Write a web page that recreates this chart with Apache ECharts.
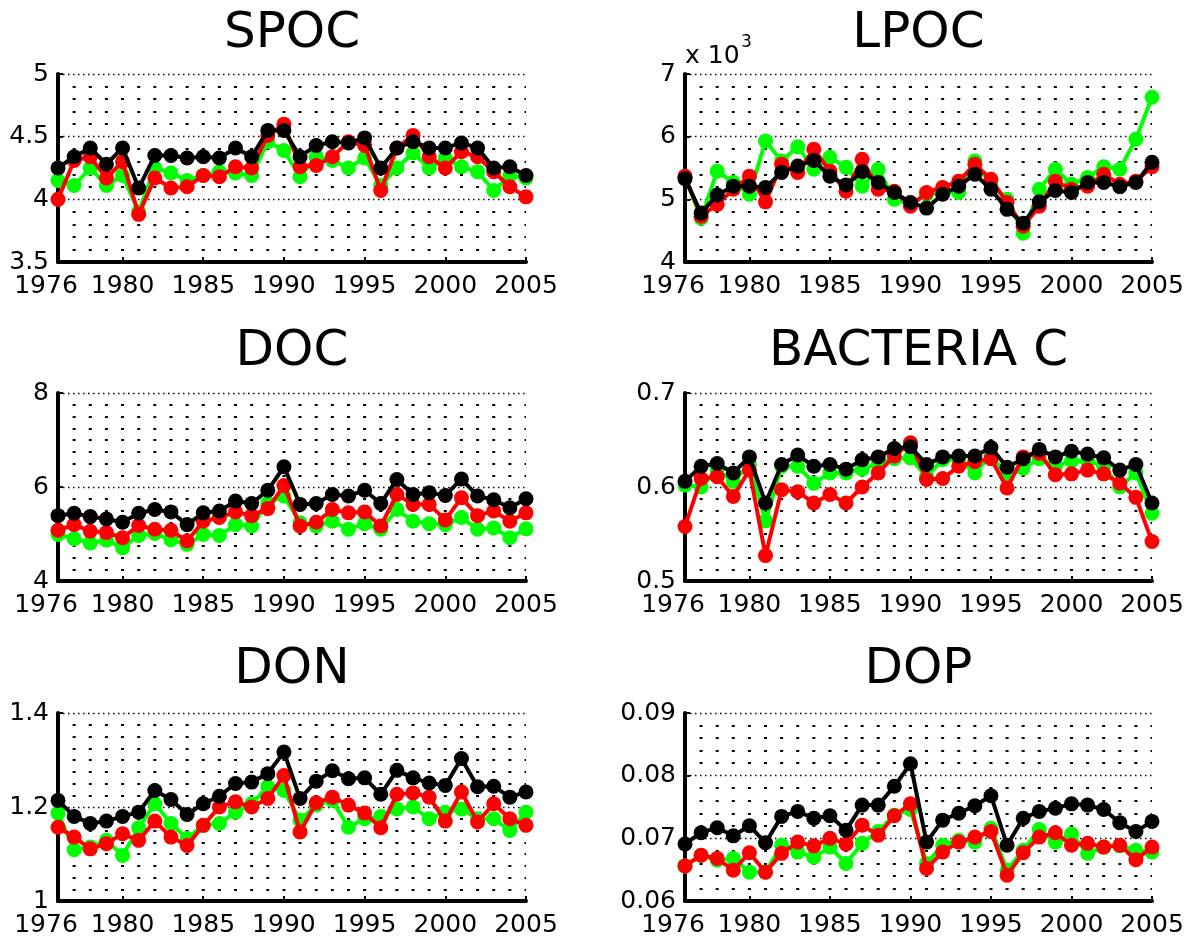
<!DOCTYPE html>
<html><head><meta charset="utf-8">
<script src="https://cdn.jsdelivr.net/npm/echarts@6/dist/echarts.min.js"></script>
<style>html,body{margin:0;padding:0;background:#fff}#c{width:1190px;height:941px}</style>
</head><body><div id="c"></div><script>
const years = [1976,1977,1978,1979,1980,1981,1982,1983,1984,1985,1986,1987,1988,1989,1990,1991,1992,1993,1994,1995,1996,1997,1998,1999,2000,2001,2002,2003,2004,2005];
const xTickLabels = [1976,1980,1985,1990,1995,2000,2005];

const spocGreen = [4.15,4.11,4.25,4.11,4.19,3.90,4.25,4.21,4.15,4.19,4.22,4.21,4.19,4.46,4.39,4.18,4.34,4.31,4.25,4.33,4.11,4.25,4.37,4.25,4.33,4.26,4.22,4.07,4.19,4.17];
const spocRed   = [4.00,4.31,4.34,4.17,4.30,3.88,4.17,4.09,4.10,4.19,4.18,4.26,4.25,4.51,4.60,4.26,4.27,4.34,4.46,4.43,4.07,4.41,4.51,4.34,4.25,4.38,4.34,4.22,4.10,4.02];
const spocBlack = [4.25,4.34,4.41,4.28,4.41,4.09,4.35,4.35,4.33,4.34,4.33,4.41,4.34,4.55,4.55,4.34,4.43,4.46,4.45,4.49,4.25,4.41,4.46,4.41,4.41,4.45,4.41,4.25,4.26,4.19];

const lpocGreen = [5350,4700,5450,5270,5080,5930,5610,5840,5480,5670,5510,5210,5480,5000,4920,5080,5110,5110,5610,5240,5000,4460,5160,5480,5240,5350,5520,5480,5960,6630];
const lpocRed   = [5370,4730,4920,5160,5370,4960,5560,5430,5800,5450,5130,5640,5160,5130,4890,5110,5190,5290,5560,5320,4950,4570,4890,5290,5160,5210,5400,5240,5290,5520];
const lpocBlack = [5330,4780,5070,5210,5210,5190,5430,5530,5620,5370,5230,5440,5270,5110,4950,4860,5080,5210,5400,5160,4840,4620,4960,5140,5110,5270,5270,5200,5270,5590];

const docGreen = [4.99,4.90,4.81,4.87,4.71,4.97,5.01,4.88,4.78,4.99,4.97,5.20,5.17,5.66,5.81,5.24,5.17,5.27,5.10,5.22,5.10,5.52,5.27,5.22,5.20,5.35,5.10,5.13,4.92,5.11];
const docRed   = [5.08,5.20,5.06,5.03,4.92,5.18,5.10,5.08,4.85,5.27,5.35,5.47,5.39,5.54,6.03,5.17,5.25,5.52,5.45,5.47,5.17,5.84,5.63,5.63,5.30,5.77,5.39,5.49,5.27,5.45];
const docBlack = [5.39,5.44,5.37,5.32,5.25,5.44,5.52,5.47,5.20,5.45,5.49,5.70,5.65,5.93,6.43,5.63,5.65,5.84,5.81,5.93,5.65,6.16,5.84,5.88,5.82,6.17,5.81,5.73,5.56,5.75];

const bactGreen = [0.602,0.600,0.618,0.606,0.624,0.564,0.622,0.622,0.604,0.615,0.615,0.619,0.625,0.630,0.631,0.611,0.629,0.629,0.615,0.634,0.611,0.620,0.630,0.622,0.628,0.628,0.622,0.600,0.615,0.572];
const bactRed   = [0.558,0.609,0.611,0.590,0.618,0.527,0.597,0.595,0.583,0.592,0.583,0.600,0.615,0.633,0.647,0.608,0.609,0.622,0.627,0.630,0.599,0.632,0.636,0.613,0.614,0.618,0.614,0.604,0.589,0.542];
const bactBlack = [0.606,0.622,0.625,0.615,0.632,0.583,0.624,0.634,0.622,0.624,0.619,0.629,0.632,0.641,0.643,0.624,0.632,0.633,0.633,0.642,0.621,0.630,0.640,0.632,0.638,0.635,0.631,0.618,0.624,0.583];

const donGreen = [1.187,1.109,1.115,1.129,1.097,1.156,1.207,1.165,1.133,1.161,1.165,1.189,1.207,1.243,1.235,1.172,1.204,1.214,1.157,1.175,1.180,1.196,1.200,1.175,1.189,1.196,1.175,1.175,1.150,1.189];
const donRed   = [1.157,1.136,1.111,1.122,1.143,1.129,1.170,1.136,1.118,1.161,1.200,1.211,1.200,1.218,1.267,1.147,1.209,1.221,1.204,1.187,1.156,1.227,1.230,1.221,1.170,1.232,1.168,1.207,1.175,1.161];
const donBlack = [1.214,1.180,1.165,1.170,1.180,1.189,1.235,1.216,1.184,1.207,1.223,1.250,1.253,1.271,1.317,1.218,1.255,1.277,1.260,1.262,1.227,1.278,1.262,1.251,1.246,1.303,1.243,1.244,1.221,1.232];

const dopGreen = [0.0656,0.0673,0.0665,0.0668,0.0646,0.0646,0.0689,0.0678,0.0670,0.0686,0.0660,0.0692,0.0711,0.0737,0.0746,0.0660,0.0689,0.0697,0.0694,0.0716,0.0649,0.0681,0.0714,0.0694,0.0707,0.0676,0.0686,0.0688,0.0681,0.0678];
const dopRed   = [0.0656,0.0673,0.0668,0.0649,0.0677,0.0646,0.0676,0.0694,0.0688,0.0700,0.0691,0.0721,0.0705,0.0736,0.0755,0.0652,0.0678,0.0694,0.0702,0.0711,0.0641,0.0677,0.0702,0.0709,0.0689,0.0692,0.0686,0.0689,0.0666,0.0686];
const dopBlack = [0.0691,0.0709,0.0717,0.0704,0.0720,0.0693,0.0735,0.0743,0.0732,0.0736,0.0713,0.0753,0.0753,0.0783,0.0819,0.0694,0.0729,0.0740,0.0752,0.0768,0.0689,0.0732,0.0743,0.0748,0.0755,0.0753,0.0746,0.0725,0.0711,0.0727];

const panelTitles = ['SPOC','LPOC','DOC','BACTERIA C','DON','DOP'];
const seriesColors = ['#00ff00','#ff0000','#000000'];

const panels = [
  {title: panelTitles[0], data: [spocGreen, spocRed, spocBlack], min: 3.5, max: 5, interval: 0.5, minor: 5, left: 58, top: 74, width: 468},
  {title: panelTitles[1], data: [lpocGreen, lpocRed, lpocBlack], min: 4000, max: 7000, interval: 1000, minor: 5, left: 685, top: 74, width: 467, scale: 1000},
  {title: panelTitles[2], data: [docGreen, docRed, docBlack], min: 4, max: 8, interval: 2, minor: 8, left: 58, top: 393, width: 468},
  {title: panelTitles[3], data: [bactGreen, bactRed, bactBlack], min: 0.5, max: 0.7, interval: 0.1, minor: 8, left: 685, top: 393, width: 467},
  {title: panelTitles[4], data: [donGreen, donRed, donBlack], min: 1, max: 1.4, interval: 0.2, minor: 8, left: 58, top: 713, width: 468},
  {title: panelTitles[5], data: [dopGreen, dopRed, dopBlack], min: 0.06, max: 0.09, interval: 0.01, minor: 5, left: 685, top: 713, width: 467}
];
const H = 188;
const FONT = 'DejaVu Sans';

const grid = [], xAxis = [], yAxis = [], series = [], graphic = [];
panels.forEach((p, i) => {
  grid.push({left: p.left, top: p.top, width: p.width, height: H, containLabel: false});
  const period = p.width / (years.length - 1);
  xAxis.push({
    type: 'value', gridIndex: i, min: 1976, max: 2005,
    axisLine: {show: true, onZero: false, lineStyle: {color: '#000', width: 4}},
    axisTick: {show: true, inside: true, length: 5, customValues: xTickLabels, lineStyle: {color: '#000', width: 2}},
    axisLabel: {
      show: true, customValues: xTickLabels, color: '#000', fontSize: 25, fontFamily: FONT, margin: 12,
      formatter: v => v === 1976 ? '{s|1976}' : String(v),
      rich: {s: {fontSize: 25, fontFamily: FONT, color: '#000', padding: [0, 24, 0, 0]}}
    },
    splitLine: {show: false}
  });
  yAxis.push({
    type: 'value', gridIndex: i, min: p.min, max: p.max, interval: p.interval,
    axisLine: {show: true, lineStyle: {color: '#000', width: 4}},
    axisTick: {show: true, inside: true, length: 5, lineStyle: {color: '#000', width: 2}},
    axisLabel: {
      show: true, color: '#000', fontSize: 25, fontFamily: FONT, margin: 9,
      formatter: v => {
        const val = p.scale ? v / p.scale : v;
        return String(parseFloat(val.toFixed(4)));
      }
    },
    splitLine: {show: true, lineStyle: {color: '#000', width: 1.3, type: [1.5, 3.5]}},
    minorTick: {show: false, splitNumber: p.minor},
    minorSplitLine: {show: true, lineStyle: {color: '#000', width: 2, type: [3, period - 3], dashOffset: 1.5}}
  });
  p.data.forEach((arr, k) => {
    series.push({
      type: 'line', xAxisIndex: i, yAxisIndex: i,
      data: years.map((y, j) => [y, arr[j]]),
      symbol: 'circle', symbolSize: 15, showSymbol: true,
      lineStyle: {color: seriesColors[k], width: 4},
      itemStyle: {color: seriesColors[k]},
      emphasis: {disabled: true},
      animation: false, z: 3 + k
    });
  });
  const cx = p.left + p.width / 2;
  const cy = [34, 34, 352, 352, 670, 670][i];
  graphic.push({
    type: 'text', x: cx, y: cy,
    style: {text: p.title, fontSize: 50, fontFamily: FONT, fill: '#000', align: 'center', verticalAlign: 'middle', textAlign: 'center', textVerticalAlign: 'middle'}
  });
});
graphic.push({type: 'text', x: 685, y: 56, style: {text: 'x 10', fontSize: 25, fontFamily: FONT, fill: '#000', align: 'left', verticalAlign: 'middle', textAlign: 'left', textVerticalAlign: 'middle'}});
graphic.push({type: 'text', x: 741, y: 43, style: {text: '3', fontSize: 17, fontFamily: FONT, fill: '#000', align: 'left', verticalAlign: 'middle', textAlign: 'left', textVerticalAlign: 'middle'}});

const chart = echarts.init(document.getElementById('c'), null, {renderer: 'canvas'});
chart.setOption({animation: false, backgroundColor: '#fff', grid, xAxis, yAxis, series, graphic});
</script></body></html>
